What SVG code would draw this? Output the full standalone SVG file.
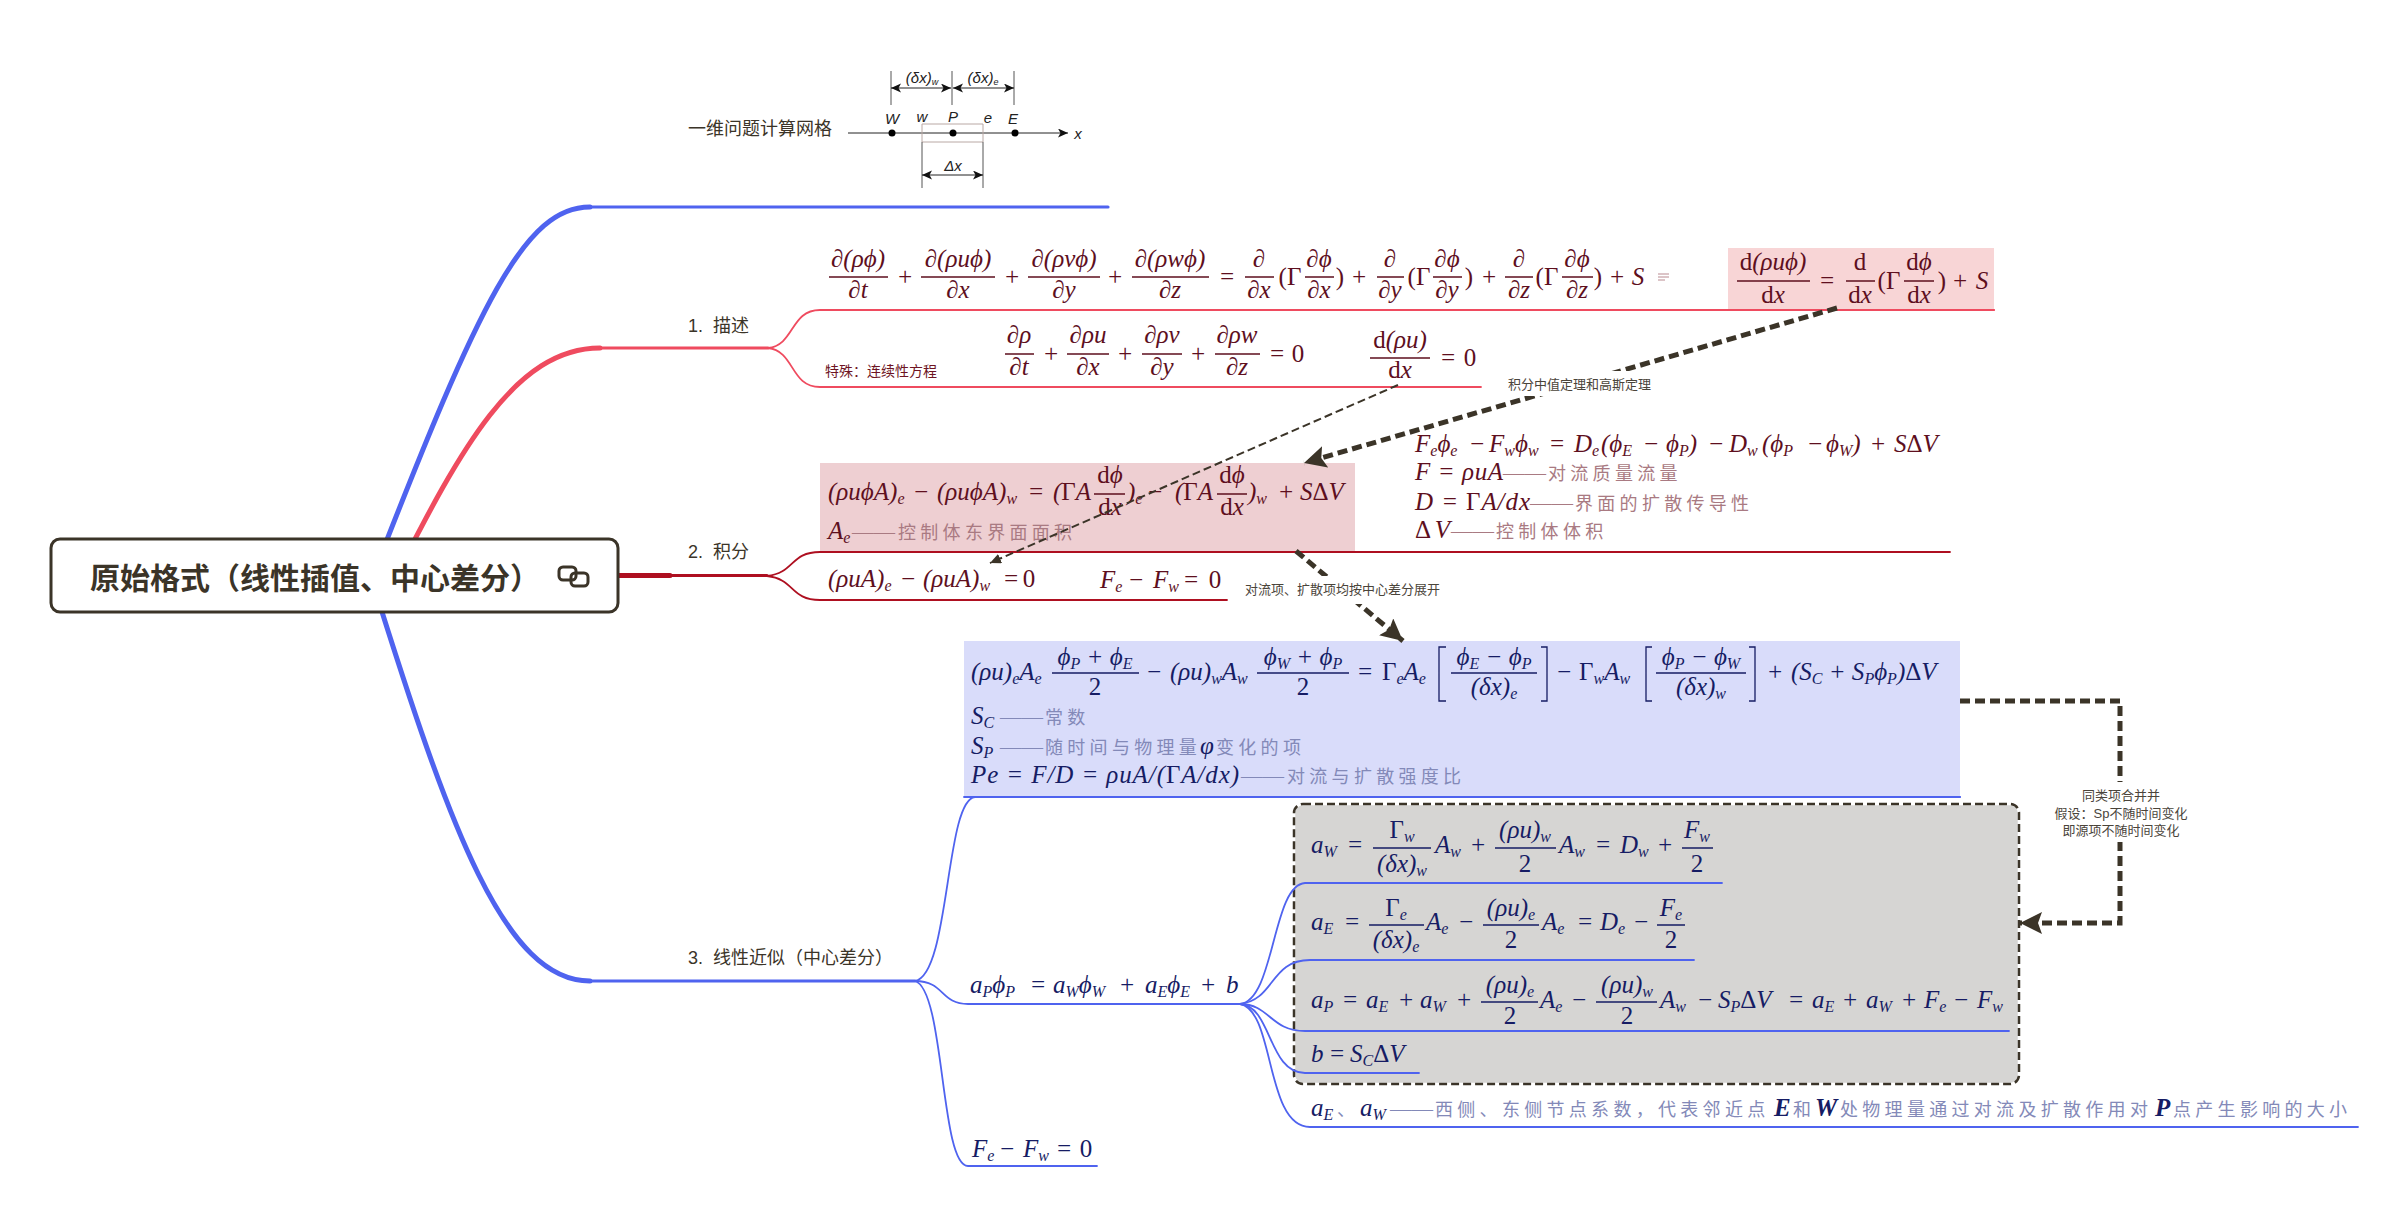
<svg xmlns="http://www.w3.org/2000/svg" width="2408" height="1217" viewBox="0 0 2408 1217">
<style>
.lb{font:18px "Liberation Sans","Noto Sans CJK SC",sans-serif;fill:#3b3428;white-space:pre}
.nt{font:13px "Liberation Sans","Noto Sans CJK SC",sans-serif;fill:#4a443a}
.br{fill:none;stroke-linecap:round}
.b{stroke:#4f63ef}.r{stroke:#ef4b5f}.d{stroke:#ae0f20}
.w1{stroke-width:1.8}.w3{stroke-width:3.2}.w5{stroke-width:5}
.e text{font:italic 25px "Liberation Serif",serif}
.e .u,.e tspan.u{font-style:normal}
.e .c{text-anchor:middle}
.e .s{font-size:16px}
.red text{fill:#5e0f1e}.red path{stroke:#5e0f1e;stroke-width:1.3;fill:none}
.blu text{fill:#161c64}.blu path{stroke:#161c64;stroke-width:1.3;fill:none}
.e .cr,.e .cb{font:400 18px "Noto Sans CJK SC",sans-serif;letter-spacing:4.3px}
.e .cr,.e .dr{fill:#a97a82}
.e .cb,.e .db{fill:#8389b8}
.e .dr,.e .db{font-size:21.500px}
.mesh text{font:italic 15px "Liberation Sans",sans-serif;fill:#222;text-anchor:middle}
.mesh path{stroke:#222;stroke-width:1;fill:none}
.arr{fill:none;stroke:#3b3428}
.thick{stroke-width:5;stroke-dasharray:10 5}
.thin{stroke-width:2;stroke-dasharray:8 4}
</style>
<defs>
<marker id="big" markerUnits="userSpaceOnUse" markerWidth="26" markerHeight="24" refX="22" refY="11" orient="auto"><path d="M0 0L22 11L0 22L4 11Z" fill="#3b3428"/></marker>
<marker id="small" markerUnits="userSpaceOnUse" markerWidth="14" markerHeight="12" refX="11" refY="5" orient="auto"><path d="M0 0L11 5L0 10Z" fill="#3b3428"/></marker>
<marker id="dim" markerUnits="userSpaceOnUse" markerWidth="12" markerHeight="10" refX="10" refY="4.5" orient="auto-start-reverse"><path d="M0 0L10 4.5L0 9L2.5 4.5Z" fill="#111"/></marker>
</defs>
<rect width="2408" height="1217" fill="#fff"/>

<g id="connectors">
<path class="br b w5" d="M372 578C480 300 525 207 590 207"/>
<path class="br b w3" d="M590 207H1108"/>
<path class="br r w5" d="M395 578C460 450 515 348 600 348"/>
<path class="br r w3" d="M600 348H768"/>
<path class="br b w5" d="M372 580C450 830 505 981 590 981"/>
<path class="br b w3" d="M590 981H915"/>
<path class="br d w5" d="M618 575.500H670"/>
<path class="br d w3" d="M670 575.500H767"/>
<path class="br r w1" d="M768 348C795 345 790 310 820 310H1994"/>
<path class="br r w1" d="M768 348C795 351 790 387 820 387H1481"/>
<path class="br d w1" d="M767 576C795 573 790 552 820 552H1950"/>
<path class="br d w1" d="M767 576C795 579 790 600 820 600H1227"/>
<path class="br b w1" d="M915 981C950 975 945 800 975 797H1960"/>
<path class="br b w1" d="M915 981C945 981 940 1004 968 1004H1240"/>
<path class="br b w1" d="M915 981C945 990 940 1166 968 1166H1097"/>
</g>

<g id="note-box-bg"><rect x="820" y="463" width="535" height="89" fill="#eecfd2"/><rect x="1728" y="248" width="266" height="62" fill="#f8d5d6"/><rect x="964" y="641" width="996" height="156" fill="#d9dcfa"/></g>
<path class="br r w1" d="M1728 310H1994"/>
<path class="br d w1" d="M820 552H1355"/>
<path class="br b w1" d="M964 797H1960"/>

<g id="root">
<rect x="51" y="539" width="567" height="73" rx="9" fill="#fff" stroke="#3b3428" stroke-width="3"/>
<text x="90" y="589" style="font:700 30px 'Noto Sans CJK SC',sans-serif;fill:#3b3428">原始格式（线性插值、中心差分）</text>
<rect x="559" y="567" width="17" height="13" rx="4" fill="none" stroke="#3b3428" stroke-width="3"/>
<rect x="571" y="573" width="17" height="13" rx="4" fill="none" stroke="#3b3428" stroke-width="3"/>
</g>

<g id="mesh" class="mesh">
<text x="760" y="135" style="font:normal 18px 'Noto Sans CJK SC',sans-serif;fill:#3b3428">一维问题计算网格</text>
<path d="M848 133H1068" marker-end="url(#dim)"/>
<text x="1078" y="139" style="font-size:15px">x</text>
<circle cx="892" cy="133" r="3.500"/><circle cx="953" cy="133" r="3.500"/><circle cx="1015" cy="133" r="3.500"/>
<path d="M922 124H983V142H922Z" style="stroke:#b9a8a4"/>
<path d="M922 142V188M983 142V188M891 71V105M952 71V105M1014 71V105" style="stroke:#555"/>
<path d="M922 175H983" marker-start="url(#dim)" marker-end="url(#dim)"/>
<path d="M891 88H951" marker-start="url(#dim)" marker-end="url(#dim)"/>
<path d="M953 88H1014" marker-start="url(#dim)" marker-end="url(#dim)"/>
<text x="922" y="83">(δx)<tspan dy="2" font-size="9">w</tspan></text>
<text x="983" y="83">(δx)<tspan dy="2" font-size="9">e</tspan></text>
<text x="953" y="171">Δx</text>
<text x="892" y="124">W</text><text x="922" y="122">w</text><text x="953" y="122">P</text><text x="988" y="123">e</text><text x="1013" y="124">E</text>
</g>

<g id="label-1"><text class="lb" x="688" y="332">1.  描述</text></g>
<g id="label-2"><text class="lb" x="688" y="558">2.  积分</text></g>
<g id="label-3"><text class="lb" x="688" y="964">3.  线性近似（中心差分）</text></g>

<g id="eq-general" class="e red">
<path d="M829 277H888M921 277H995M1028 277H1100M1132 277H1209M1245 277H1274M1305 277H1334M1377 277H1404M1433 277H1462M1505 277H1533M1562 277H1593"/>
<text class="c" x="858" y="267">∂(ρϕ)</text><text class="c" x="858" y="298">∂t</text>
<text class="c" x="905" y="285">+</text>
<text class="c" x="958" y="267">∂(ρuϕ)</text><text class="c" x="958" y="298">∂x</text>
<text class="c" x="1012" y="285">+</text>
<text class="c" x="1064" y="267">∂(ρvϕ)</text><text class="c" x="1064" y="298">∂y</text>
<text class="c" x="1115" y="285">+</text>
<text class="c" x="1170" y="267">∂(ρwϕ)</text><text class="c" x="1170" y="298">∂z</text>
<text class="c" x="1227" y="285">=</text>
<text class="c" x="1259" y="267">∂</text><text class="c" x="1259" y="298">∂x</text>
<text class="c u" x="1290" y="285">(Γ</text>
<text class="c" x="1319" y="267">∂ϕ</text><text class="c" x="1319" y="298">∂x</text>
<text class="c u" x="1340" y="285">)</text><text class="c" x="1359" y="285">+</text>
<text class="c" x="1390" y="267">∂</text><text class="c" x="1390" y="298">∂y</text>
<text class="c u" x="1419" y="285">(Γ</text>
<text class="c" x="1447" y="267">∂ϕ</text><text class="c" x="1447" y="298">∂y</text>
<text class="c u" x="1469" y="285">)</text><text class="c" x="1489" y="285">+</text>
<text class="c" x="1519" y="267">∂</text><text class="c" x="1519" y="298">∂z</text>
<text class="c u" x="1547" y="285">(Γ</text>
<text class="c" x="1577" y="267">∂ϕ</text><text class="c" x="1577" y="298">∂z</text>
<text class="c u" x="1598" y="285">)</text><text class="c" x="1617" y="285">+</text>
<text class="c" x="1638" y="285">S</text>
<path d="M1658 274H1669M1658 277H1669M1658 280H1665" style="stroke:#b98a90;stroke-width:1"/>
</g>

<g id="eq-1d" class="e red">
<path d="M1737 281H1810M1846 281H1875M1904 281H1934"/>
<text class="c" x="1773" y="270"><tspan class="u">d</tspan>(ρuϕ)</text><text class="c" x="1773" y="303"><tspan class="u">d</tspan>x</text>
<text class="c" x="1827" y="289">=</text>
<text class="c u" x="1860" y="270">d</text><text class="c" x="1860" y="303"><tspan class="u">d</tspan>x</text>
<text class="c u" x="1889" y="289">(Γ</text>
<text class="c" x="1919" y="270"><tspan class="u">d</tspan>ϕ</text><text class="c" x="1919" y="303"><tspan class="u">d</tspan>x</text>
<text class="c u" x="1942" y="289">)</text><text class="c" x="1960" y="289">+</text><text class="c" x="1982" y="289">S</text>
</g>

<g id="eq-continuity" class="e red">
<path d="M1005 354H1034M1067 354H1109M1142 354H1182M1215 354H1260M1370 358H1430"/>
<text class="c" x="1019" y="343">∂ρ</text><text class="c" x="1019" y="375">∂t</text>
<text class="c" x="1051" y="362">+</text>
<text class="c" x="1088" y="343">∂ρu</text><text class="c" x="1088" y="375">∂x</text>
<text class="c" x="1125" y="362">+</text>
<text class="c" x="1162" y="343">∂ρv</text><text class="c" x="1162" y="375">∂y</text>
<text class="c" x="1198" y="362">+</text>
<text class="c" x="1237" y="343">∂ρw</text><text class="c" x="1237" y="375">∂z</text>
<text class="c" x="1277" y="362">=</text><text class="c u" x="1298" y="362">0</text>
<text class="c" x="1400" y="348"><tspan class="u">d</tspan>(ρu)</text><text class="c" x="1400" y="378"><tspan class="u">d</tspan>x</text>
<text class="c" x="1448" y="366">=</text><text class="c u" x="1470" y="366">0</text>
</g>
<g id="label-special"><text x="825" y="376" style="font:14px 'Noto Sans CJK SC',sans-serif;fill:#6e1423">特殊：连续性方程</text></g>

<g id="eq-integral" class="e red">
<path d="M1094 494H1125M1217 494H1247"/>
<text x="828" y="500">(ρuϕA)<tspan class="s" dy="4">e</tspan></text>
<text class="c" x="921" y="500">−</text>
<text x="937" y="500">(ρuϕA)<tspan class="s" dy="4">w</tspan></text>
<text class="c" x="1036" y="500">=</text>
<text x="1053" y="500">(<tspan class="u">Γ</tspan>A</text>
<text class="c" x="1110" y="483"><tspan class="u">d</tspan>ϕ</text><text class="c" x="1110" y="515"><tspan class="u">d</tspan>x</text>
<text x="1127" y="500">)<tspan class="s" dy="4">e</tspan></text>
<text class="c" x="1155" y="500">−</text>
<text x="1175" y="500">(<tspan class="u">Γ</tspan>A</text>
<text class="c" x="1232" y="483"><tspan class="u">d</tspan>ϕ</text><text class="c" x="1232" y="515"><tspan class="u">d</tspan>x</text>
<text x="1248" y="500">)<tspan class="s" dy="4">w</tspan></text>
<text class="c" x="1286" y="500">+</text>
<text x="1300" y="500">S<tspan class="u">Δ</tspan>V</text>
<text x="828" y="539">A<tspan class="s" dy="4">e</tspan></text>
<text class="u dr" x="852" y="539">——</text>
<text class="cr" x="898" y="539">控制体东界面面积</text>
</g>

<g id="eq-integral-2" class="e red">
<text x="828" y="587">(ρuA)<tspan class="s" dy="4">e</tspan></text>
<text class="c" x="908" y="587">−</text>
<text x="923" y="587">(ρuA)<tspan class="s" dy="4">w</tspan></text>
<text class="c" x="1011" y="587">=</text><text class="c u" x="1029" y="587">0</text>
<text x="1100" y="588">F<tspan class="s" dy="4">e</tspan></text>
<text class="c" x="1136" y="588">−</text>
<text x="1153" y="588">F<tspan class="s" dy="4">w</tspan></text>
<text class="c" x="1191" y="588">=</text><text class="c u" x="1215" y="588">0</text>
</g>

<g id="eq-discrete" class="e red">
<text x="1415" y="452">F<tspan class="s" dy="4">e</tspan><tspan dy="-4">ϕ</tspan><tspan class="s" dy="4">e</tspan></text>
<text class="c" x="1477" y="452">−</text>
<text x="1489" y="452">F<tspan class="s" dy="4">w</tspan><tspan dy="-4">ϕ</tspan><tspan class="s" dy="4">w</tspan></text>
<text class="c" x="1557" y="452">=</text>
<text x="1574" y="452">D<tspan class="s" dy="4">e</tspan></text>
<text x="1601" y="452">(ϕ<tspan class="s" dy="4">E</tspan></text>
<text class="c" x="1651" y="452">−</text>
<text x="1666" y="452">ϕ<tspan class="s" dy="4">P</tspan><tspan dy="-4">)</tspan></text>
<text class="c" x="1716" y="452">−</text>
<text x="1729" y="452">D<tspan class="s" dy="4">w</tspan></text>
<text x="1762" y="452">(ϕ<tspan class="s" dy="4">P</tspan></text>
<text class="c" x="1815" y="452">−</text>
<text x="1826" y="452">ϕ<tspan class="s" dy="4">W</tspan><tspan dy="-4">)</tspan></text>
<text class="c" x="1878" y="452">+</text>
<text x="1894" y="452">S<tspan class="u">Δ</tspan>V</text>
<text x="1415" y="480" textLength="88">F = ρuA</text><text class="u dr" x="1503" y="480">——</text><text class="cr" x="1548" y="480">对流质量流量</text>
<text x="1415" y="510" textLength="115">D = <tspan class="u">Γ</tspan>A/dx</text><text class="u dr" x="1530" y="510">——</text><text class="cr" x="1575" y="510">界面的扩散传导性</text>
<text class="u" x="1415" y="538" textLength="35">Δ<tspan style="font-style:italic">V</tspan></text><text class="u dr" x="1451" y="538">——</text><text class="cr" x="1496" y="538">控制体体积</text>
</g>

<g id="eq-linear" class="e blu">
<path d="M1052 673H1139M1257 673H1349M1451 673H1537M1656 673H1746M1446 647H1439V701H1446M1541 647H1547V701H1541M1652 647H1646V701H1652M1749 647H1755V701H1749"/>
<text x="971" y="680">(ρu)<tspan class="s" dy="4">e</tspan><tspan dy="-4">A</tspan><tspan class="s" dy="4">e</tspan></text>
<text class="c" x="1095" y="665">ϕ<tspan class="s" dy="4">P</tspan><tspan dy="-4"> + ϕ</tspan><tspan class="s" dy="4">E</tspan></text>
<text class="c u" x="1095" y="695">2</text>
<text class="c" x="1154" y="680">−</text>
<text x="1170" y="680">(ρu)<tspan class="s" dy="4">w</tspan><tspan dy="-4">A</tspan><tspan class="s" dy="4">w</tspan></text>
<text class="c" x="1303" y="665">ϕ<tspan class="s" dy="4">W</tspan><tspan dy="-4"> + ϕ</tspan><tspan class="s" dy="4">P</tspan></text>
<text class="c u" x="1303" y="695">2</text>
<text class="c" x="1365" y="680">=</text>
<text x="1382" y="680"><tspan class="u">Γ</tspan><tspan class="s" dy="4">e</tspan><tspan dy="-4">A</tspan><tspan class="s" dy="4">e</tspan></text>
<text class="c" x="1494" y="665">ϕ<tspan class="s" dy="4">E</tspan><tspan dy="-4"> − ϕ</tspan><tspan class="s" dy="4">P</tspan></text>
<text class="c" x="1494" y="695">(δx)<tspan class="s" dy="4">e</tspan></text>
<text class="c" x="1564" y="680">−</text>
<text x="1579" y="680"><tspan class="u">Γ</tspan><tspan class="s" dy="4">w</tspan><tspan dy="-4">A</tspan><tspan class="s" dy="4">w</tspan></text>
<text class="c" x="1701" y="665">ϕ<tspan class="s" dy="4">P</tspan><tspan dy="-4"> − ϕ</tspan><tspan class="s" dy="4">W</tspan></text>
<text class="c" x="1701" y="695">(δx)<tspan class="s" dy="4">w</tspan></text>
<text class="c" x="1775" y="680">+</text>
<text x="1791" y="680">(S<tspan class="s" dy="4">C</tspan><tspan dy="-4"> + S</tspan><tspan class="s" dy="4">P</tspan><tspan dy="-4">ϕ</tspan><tspan class="s" dy="4">P</tspan><tspan dy="-4">)</tspan><tspan class="u">Δ</tspan>V</text>
<text x="971" y="724">S<tspan class="s" dy="4">C</tspan></text><text class="u db" x="1000" y="724">——</text><text class="cb" x="1045" y="724">常数</text>
<text x="971" y="754">S<tspan class="s" dy="4">P</tspan></text><text class="u db" x="1000" y="754">——</text><text class="cb" x="1045" y="754">随时间与物理量</text><text x="1200" y="754">φ</text><text class="cb" x="1216" y="754">变化的项</text>
<text x="971" y="783" textLength="268">Pe = F/D = ρuA/(<tspan class="u">Γ</tspan>A/dx)</text><text class="u db" x="1241" y="783">——</text><text class="cb" x="1287" y="783">对流与扩散强度比</text>
</g>

<g id="group-box">
<rect x="1294" y="804" width="725" height="280" rx="9" fill="#d6d5d3" stroke="#fff" stroke-width="2.500"/>
<rect x="1294" y="804" width="725" height="280" rx="9" fill="none" stroke="#3b3428" stroke-width="2.500" stroke-dasharray="8 4"/>
</g>

<g id="connectors-children">
<path class="br b w1" d="M1240 1004C1275 1000 1272 885 1305 883H1722"/>
<path class="br b w1" d="M1240 1004C1275 1000 1270 960 1310 960H1694"/>
<path class="br b w1" d="M1240 1004C1270 1004 1270 1031 1305 1031H2009"/>
<path class="br b w1" d="M1240 1004C1272 1006 1268 1073 1305 1073H1419"/>
<path class="br b w1" d="M1240 1004C1275 1010 1265 1127 1310 1127H2358"/>
</g>

<g id="eq-ap" class="e blu">
<text x="970" y="993">a<tspan class="s" dy="4">P</tspan><tspan dy="-4">ϕ</tspan><tspan class="s" dy="4">P</tspan></text>
<text class="c" x="1038" y="993">=</text>
<text x="1053" y="993">a<tspan class="s" dy="4">W</tspan><tspan dy="-4">ϕ</tspan><tspan class="s" dy="4">W</tspan></text>
<text class="c" x="1127" y="993">+</text>
<text x="1145" y="993">a<tspan class="s" dy="4">E</tspan><tspan dy="-4">ϕ</tspan><tspan class="s" dy="4">E</tspan></text>
<text class="c" x="1208" y="993">+</text>
<text x="1226" y="993">b</text>
</g>
<g id="eq-fe" class="e blu">
<text x="972" y="1157">F<tspan class="s" dy="4">e</tspan></text><text class="c" x="1007" y="1157">−</text>
<text x="1023" y="1157">F<tspan class="s" dy="4">w</tspan></text><text class="c" x="1064" y="1157">=</text><text class="c u" x="1086" y="1157">0</text>
</g>

<g id="eq-aw" class="e blu">
<path d="M1373 848H1431M1495 848H1556M1682 848H1713"/>
<text x="1311" y="853">a<tspan class="s" dy="4">W</tspan></text><text class="c" x="1355" y="853">=</text>
<text class="c" x="1402" y="838"><tspan class="u">Γ</tspan><tspan class="s" dy="4">w</tspan></text><text class="c" x="1402" y="872">(δx)<tspan class="s" dy="4">w</tspan></text>
<text x="1435" y="853">A<tspan class="s" dy="4">w</tspan></text><text class="c" x="1478" y="853">+</text>
<text class="c" x="1525" y="838">(ρu)<tspan class="s" dy="4">w</tspan></text><text class="c u" x="1525" y="872">2</text>
<text x="1559" y="853">A<tspan class="s" dy="4">w</tspan></text><text class="c" x="1603" y="853">=</text>
<text x="1620" y="853">D<tspan class="s" dy="4">w</tspan></text><text class="c" x="1665" y="853">+</text>
<text class="c" x="1697" y="838">F<tspan class="s" dy="4">w</tspan></text><text class="c u" x="1697" y="872">2</text>
</g>
<g id="eq-ae" class="e blu">
<path d="M1369 925H1424M1483 925H1539M1657 925H1685"/>
<text x="1311" y="930">a<tspan class="s" dy="4">E</tspan></text><text class="c" x="1352" y="930">=</text>
<text class="c" x="1396" y="916"><tspan class="u">Γ</tspan><tspan class="s" dy="4">e</tspan></text><text class="c" x="1396" y="948">(δx)<tspan class="s" dy="4">e</tspan></text>
<text x="1426" y="930">A<tspan class="s" dy="4">e</tspan></text><text class="c" x="1466" y="930">−</text>
<text class="c" x="1511" y="916">(ρu)<tspan class="s" dy="4">e</tspan></text><text class="c u" x="1511" y="948">2</text>
<text x="1542" y="930">A<tspan class="s" dy="4">e</tspan></text><text class="c" x="1585" y="930">=</text>
<text x="1600" y="930">D<tspan class="s" dy="4">e</tspan></text><text class="c" x="1641" y="930">−</text>
<text class="c" x="1671" y="916">F<tspan class="s" dy="4">e</tspan></text><text class="c u" x="1671" y="948">2</text>
</g>
<g id="eq-apc" class="e blu">
<path d="M1481 1002H1538M1596 1002H1657"/>
<text x="1311" y="1008">a<tspan class="s" dy="4">P</tspan></text><text class="c" x="1350" y="1008">=</text>
<text x="1366" y="1008">a<tspan class="s" dy="4">E</tspan></text><text class="c" x="1406" y="1008">+</text>
<text x="1420" y="1008">a<tspan class="s" dy="4">W</tspan></text><text class="c" x="1464" y="1008">+</text>
<text class="c" x="1510" y="993">(ρu)<tspan class="s" dy="4">e</tspan></text><text class="c u" x="1510" y="1024">2</text>
<text x="1540" y="1008">A<tspan class="s" dy="4">e</tspan></text><text class="c" x="1579" y="1008">−</text>
<text class="c" x="1627" y="993">(ρu)<tspan class="s" dy="4">w</tspan></text><text class="c u" x="1627" y="1024">2</text>
<text x="1660" y="1008">A<tspan class="s" dy="4">w</tspan></text><text class="c" x="1705" y="1008">−</text>
<text x="1718" y="1008">S<tspan class="s" dy="4">P</tspan><tspan class="u" dy="-4">Δ</tspan>V</text><text class="c" x="1796" y="1008">=</text>
<text x="1812" y="1008">a<tspan class="s" dy="4">E</tspan></text><text class="c" x="1850" y="1008">+</text>
<text x="1866" y="1008">a<tspan class="s" dy="4">W</tspan></text><text class="c" x="1909" y="1008">+</text>
<text x="1924" y="1008">F<tspan class="s" dy="4">e</tspan></text><text class="c" x="1961" y="1008">−</text>
<text x="1977" y="1008">F<tspan class="s" dy="4">w</tspan></text>
</g>
<g id="eq-b" class="e blu">
<text x="1311" y="1062">b</text><text class="c" x="1337" y="1062">=</text>
<text x="1350" y="1062">S<tspan class="s" dy="4">C</tspan><tspan class="u" dy="-4">Δ</tspan>V</text>
</g>
<g id="eq-coef" class="e blu">
<text x="1311" y="1116">a<tspan class="s" dy="4">E</tspan></text><text class="cb" x="1337" y="1116">、</text>
<text x="1360" y="1116">a<tspan class="s" dy="4">W</tspan></text>
<text class="u db" x="1390" y="1116">——</text>
<text class="cb" x="1435" y="1116">西侧、东侧节点系数，代表邻近点</text>
<text x="1774" y="1116" style="font-weight:700">E</text><text class="cb" x="1793" y="1116">和</text>
<text x="1815" y="1116" style="font-weight:700">W</text>
<text class="cb" x="1840" y="1116">处物理量通过对流及扩散作用对</text>
<text x="2155" y="1116" style="font-weight:700">P</text>
<text class="cb" x="2173" y="1116">点产生影响的大小</text>
</g>

<g id="connectors-relations">
<path class="arr thick" d="M1837 308L1304 463" marker-end="url(#big)"/>
<path class="arr thin" d="M1398 385L990 563" marker-end="url(#small)"/>
<path class="arr thick" d="M1296 551L1403 641" marker-end="url(#big)"/>
<path class="arr thick" d="M1960 701H2120V923H2020" marker-end="url(#big)"/>
<g fill="#fff">
<rect x="1505" y="371" width="150" height="25"/>
<rect x="1243" y="576" width="200" height="28"/>
<rect x="2055" y="782" width="135" height="60"/>
</g>
<text class="nt" x="1508" y="389">积分中值定理和高斯定理</text>
<text class="nt" x="1245" y="594">对流项、扩散项均按中心差分展开</text>
<g text-anchor="middle">
<text class="nt" x="2121" y="800">同类项合并并</text>
<text class="nt" x="2121" y="818">假设：Sp不随时间变化</text>
<text class="nt" x="2121" y="835">即源项不随时间变化</text>
</g>
</g>
</svg>
